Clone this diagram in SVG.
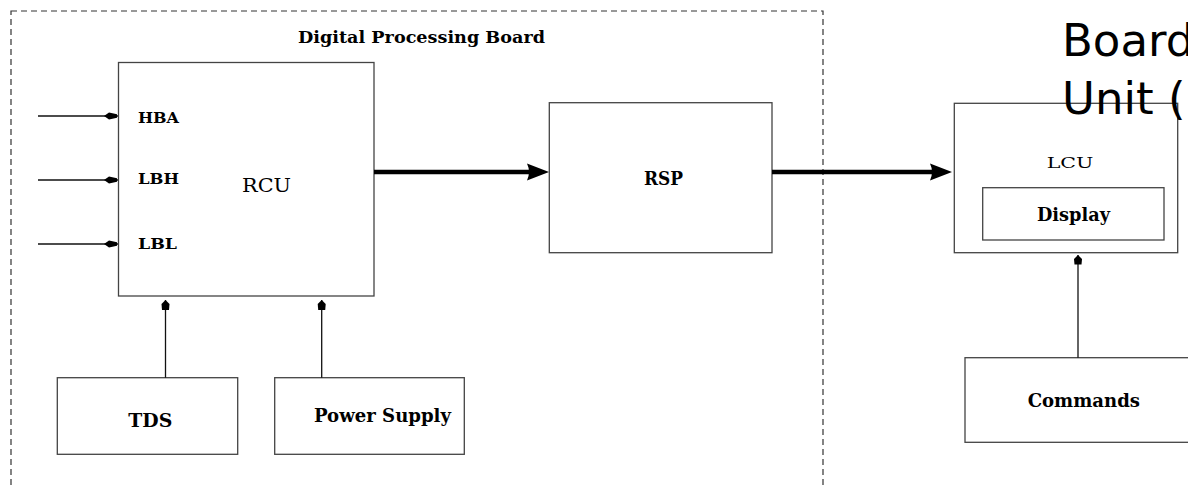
<svg xmlns="http://www.w3.org/2000/svg" width="1188" height="488" viewBox="0 0 1188 488">
  <style>
    .box { fill: #fff; stroke: #444; stroke-width: 1.3; }
    .frame { fill: none; stroke: #333; stroke-width: 1.2; stroke-dasharray: 6 4; }
    .wire { fill: none; stroke: #111; stroke-width: 1.3; }
    .bus { fill: none; stroke: #000; stroke-width: 4.5; }
    .tip { fill: #000; stroke: none; }
    .lbl { font-family: "DejaVu Serif", "Liberation Serif", serif; font-weight: bold; fill: #000; }
    .reg { font-family: "DejaVu Serif", "Liberation Serif", serif; fill: #000; }
    .big { font-family: "DejaVu Sans", sans-serif; font-size: 45px; fill: #000; }
  </style>

  <rect width="1188" height="488" fill="#fff"/>

  <!-- board boundary -->
  <g id="board">
    <rect class="frame" x="11" y="11" width="812" height="500"/>
    <text class="lbl" x="298" y="42.7" font-size="17" textLength="247" lengthAdjust="spacingAndGlyphs">Digital Processing Board</text>
  </g>

  <g id="rcu">
    <rect class="box" x="118.5" y="62.5" width="255.5" height="233.5"/>
    <text class="reg" x="242" y="192.3" font-size="18" textLength="49" lengthAdjust="spacingAndGlyphs">RCU</text>
    <text class="lbl" x="138" y="122.5" font-size="15" textLength="41" lengthAdjust="spacingAndGlyphs">HBA</text>
    <text class="lbl" x="138" y="184.3" font-size="15" textLength="41" lengthAdjust="spacingAndGlyphs">LBH</text>
    <text class="lbl" x="138" y="249.3" font-size="15" textLength="39" lengthAdjust="spacingAndGlyphs">LBL</text>
  </g>

  <g id="rsp">
    <rect class="box" x="549.3" y="102.7" width="222.7" height="150"/>
    <text class="lbl" x="644" y="185" font-size="18" textLength="39" lengthAdjust="spacingAndGlyphs">RSP</text>
  </g>

  <g id="tds">
    <rect class="box" x="57.3" y="377.7" width="180.4" height="76.6"/>
    <text class="lbl" x="128.3" y="427" font-size="18" textLength="44" lengthAdjust="spacingAndGlyphs">TDS</text>
  </g>

  <g id="power-supply">
    <rect class="box" x="274.7" y="377.7" width="189.6" height="76.6"/>
    <text class="lbl" x="314" y="421.7" font-size="18" textLength="137" lengthAdjust="spacingAndGlyphs">Power Supply</text>
  </g>

  <g id="lcu">
    <rect class="box" x="954.3" y="103.3" width="223.4" height="149.4"/>
    <text class="reg" x="1046.7" y="167.7" font-size="15" textLength="46.7" lengthAdjust="spacingAndGlyphs">LCU</text>
  </g>

  <g id="display">
    <rect class="box" x="982.7" y="187.7" width="181.3" height="52.3"/>
    <text class="lbl" x="1037" y="220.7" font-size="18" textLength="73" lengthAdjust="spacingAndGlyphs">Display</text>
  </g>

  <g id="commands">
    <rect class="box" x="965" y="357.7" width="240" height="84.6"/>
    <text class="lbl" x="1027.7" y="406.7" font-size="18" textLength="112.3" lengthAdjust="spacingAndGlyphs">Commands</text>
  </g>

  <g id="connectors">
    <!-- antenna inputs into RCU -->
    <line class="wire" x1="38" y1="116" x2="118" y2="116"/>
    <polygon class="tip" points="104,116 109,112.5 117,114.3 117,117.7 109,119.5"/>
    <line class="wire" x1="38" y1="180" x2="118" y2="180"/>
    <polygon class="tip" points="104,180 109,176.5 117,178.3 117,181.7 109,183.5"/>
    <line class="wire" x1="38" y1="244" x2="118" y2="244"/>
    <polygon class="tip" points="104,244 109,240.5 117,242.3 117,245.7 109,247.5"/>

    <!-- TDS and power feeds -->
    <line class="wire" x1="165.5" y1="300" x2="165.5" y2="377.7"/>
    <polygon class="tip" points="165.5,300 169.5,304 169,310 162,310 161.5,304"/>
    <line class="wire" x1="321.7" y1="300" x2="321.7" y2="377.7"/>
    <polygon class="tip" points="321.7,300 325.7,304 325.2,310 318.2,310 317.7,304"/>

    <!-- commands feed into LCU -->
    <line class="wire" x1="1078" y1="255" x2="1078" y2="357.7"/>
    <polygon class="tip" points="1078,255 1082,259 1081.5,264.5 1074.5,264.5 1074,259"/>

    <!-- data buses -->
    <line class="bus" x1="374" y1="172" x2="530" y2="172"/>
    <path class="tip" d="M549,172 L527,163.5 Q531,172 527,180.5 Z"/>
    <line class="bus" x1="772" y1="172" x2="933" y2="172"/>
    <path class="tip" d="M952,172 L930,163.5 Q934,172 930,180.5 Z"/>
  </g>

  <!-- overflowing caption at the top right -->
  <g id="caption">
    <text class="big" x="1062" y="56">Board</text>
    <text class="big" x="1062" y="113.5">Unit (</text>
  </g>
</svg>
